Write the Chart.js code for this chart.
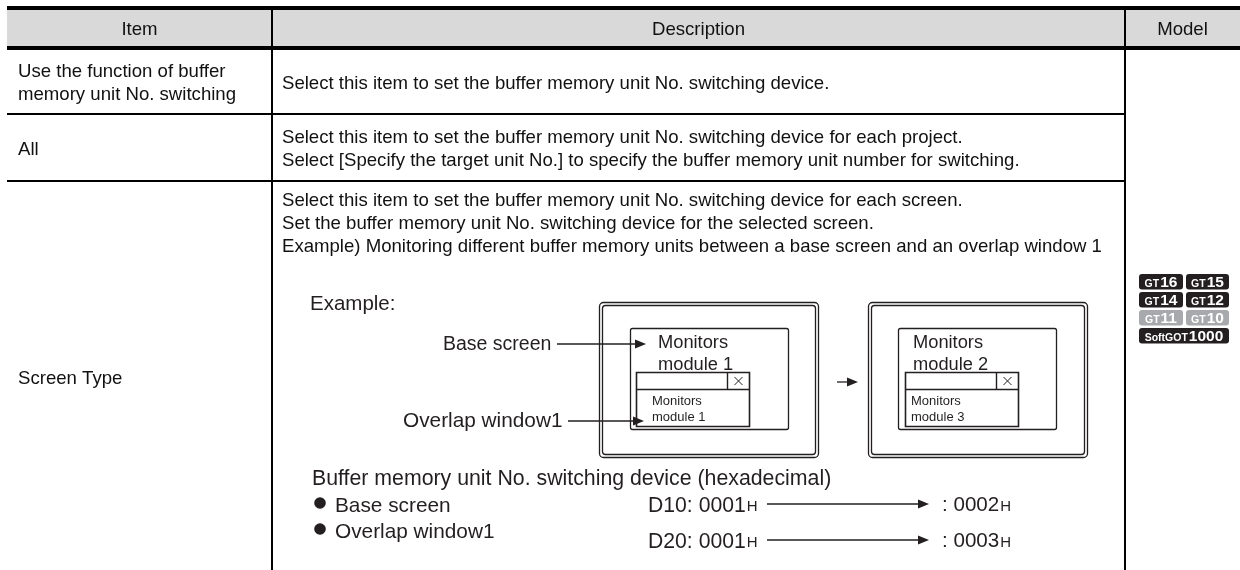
<!DOCTYPE html>
<html>
<head>
<meta charset="utf-8">
<script src="https://cdn.jsdelivr.net/npm/chart.js@4.4.1/dist/chart.umd.min.js"></script>
<style>
html,body{margin:0;padding:0;background:#fff;}
#wrap{width:1240px;height:570px;position:relative;}
canvas{display:block;}
</style>
</head>
<body>
<div id="wrap"><canvas id="c" width="1240" height="570"></canvas></div>
<script>
// ---------- DATA ----------
const headerLabels = ["Item", "Description", "Model"];
const itemLabels = [
  ["Use the function of buffer", "memory unit No. switching"],
  ["All"],
  ["Screen Type"]
];
const descriptionLines = [
  ["Select this item to set the buffer memory unit No. switching device."],
  ["Select this item to set the buffer memory unit No. switching device for each project.",
   "Select [Specify the target unit No.] to specify the buffer memory unit number for switching."],
  ["Select this item to set the buffer memory unit No. switching device for each screen.",
   "Set the buffer memory unit No. switching device for the selected screen.",
   "Example) Monitoring different buffer memory units between a base screen and an overlap window 1"]
];
const modelPrefixes = [["GT", "GT"], ["GT", "GT"], ["GT", "GT"], ["SoftGOT"]];
const modelNumbers = [["16", "15"], ["14", "12"], ["11", "10"], ["1000"]];
const modelSupported = [[true, true], [true, true], [false, false], [true]];
const exampleTitle = "Example:";
const baseScreenTexts = [["Monitors", "module 1"], ["Monitors", "module 2"]];
const overlapTexts = [["Monitors", "module 1"], ["Monitors", "module 3"]];
const calloutLabels = ["Base screen", "Overlap window1"];
const deviceTitle = "Buffer memory unit No. switching device (hexadecimal)";
const deviceTargets = ["Base screen", "Overlap window1"];
const deviceNames = ["D10", "D20"];
const deviceBefore = ["0001", "0001"];
const deviceAfter = ["0002", "0003"];

// ---------- LAYOUT (positions in scale units) ----------
const L = {
  cols: [7, 272, 1125, 1240],
  topRule: [6, 10], headRule: [46, 50], headMid: 28,
  rowRules: [114, 181],
  itemLineY: [[70, 93], [148], [377]],
  descLineY: [[82], [136, 159], [199, 222, 245]],
  padX: 11,
  badgeX: [[1139, 1183], [1186, 1229]], badgeFullX: [1139, 1229],
  badgeY0: 274, badgePitch: 18, badgeH: 15.5,
  screens: [
    {outer: [599, 302, 818, 457], base: [630, 328, 788, 429], baseTx: 658, ov: [636, 372, 749, 426], ovTx: 652, closeX: 727},
    {outer: [868, 302, 1087, 457], base: [898, 328, 1056, 429], baseTx: 913, ov: [905, 372, 1018, 426], ovTx: 911, closeX: 996}
  ],
  exampleXY: [310, 303],
  callouts: [{x: 443, y: 343, x0: 557, x1: 646, size: 19.5}, {x: 403, y: 420, x0: 568, x1: 644, size: 20.8}],
  midArrow: [837, 858, 382],
  devTitleXY: [312, 477],
  devRowY: [505, 531], devValY: [504, 540],
  bulletX: 320, targetX: 335, devX: 648, arrowX: [767, 929], afterX: 942
};

const BODY = '"Liberation Sans", Arial, Helvetica, sans-serif';
const BODY_SIZE = 18.6;

const tablePlugin = {
  id: 'tableDraw',
  afterDraw(chart) {
    const ctx = chart.ctx;
    const xs = chart.scales.x, ys = chart.scales.y;
    const X = v => xs.getPixelForValue(v);
    const Y = v => ys.getPixelForValue(v);
    const rect = (x0, y0, x1, y1, c) => { ctx.fillStyle = c; ctx.fillRect(X(x0), Y(y0), X(x1) - X(x0), Y(y1) - Y(y0)); };
    const font = (size, bold) => (bold ? 'bold ' : '') + size + 'px ' + BODY;
    const text = (s, x, yc, size, opt = {}) => {
      ctx.font = font(size, opt.bold);
      ctx.fillStyle = opt.color || '#000';
      ctx.textAlign = opt.align || 'left';
      ctx.textBaseline = 'alphabetic';
      ctx.fillText(s, X(x), Y(yc) + size * 0.36);
      return ctx.measureText(s).width;
    };
    ctx.save();
    // ---- table frame ----
    const [c0, c1, c2, c3] = L.cols;
    rect(c0, L.topRule[1], c3, L.headRule[0], '#d9d9d9');
    rect(c0, L.topRule[0], c3, L.topRule[1], '#000');
    rect(c0, L.headRule[0], c3, L.headRule[1], '#000');
    L.rowRules.forEach(r => rect(c0, r - 1, c2, r + 1, '#000'));
    rect(c1 - 1, L.topRule[1], c1 + 1, 570, '#000');
    rect(c2 - 1, L.topRule[1], c2 + 1, 570, '#000');

    // ---- header ----
    const centers = [(c0 + c1) / 2, (c1 + c2) / 2, (c2 + c3) / 2];
    headerLabels.forEach((h, i) => text(h, centers[i], L.headMid, BODY_SIZE, {align: 'center', color: '#111'}));

    // ---- rows ----
    itemLabels.forEach((lines, r) => lines.forEach((s, k) => text(s, c0 + L.padX, L.itemLineY[r][k], BODY_SIZE, {color: '#111'})));
    descriptionLines.forEach((lines, r) => lines.forEach((s, k) => text(s, c1 + 10, L.descLineY[r][k], BODY_SIZE, {color: '#111'})));

    // ---- model badges ----
    modelNumbers.forEach((row, r) => {
      const y0 = L.badgeY0 + r * L.badgePitch;
      row.forEach((num, k) => {
        const xr = row.length === 1 ? L.badgeFullX : L.badgeX[k];
        ctx.fillStyle = modelSupported[r][k] ? '#231f20' : '#a7a9ac';
        ctx.beginPath();
        ctx.roundRect(X(xr[0]), Y(y0), X(xr[1]) - X(xr[0]), Y(y0 + L.badgeH) - Y(y0), 3);
        ctx.fill();
        const pre = modelPrefixes[r][k];
        const ps = pre.length > 2 ? 10.5 : 10.5;
        ctx.font = font(ps, true); const wp = ctx.measureText(pre).width;
        ctx.font = font(15.5, true); const wn = ctx.measureText(num).width;
        const start = (X(xr[0]) + X(xr[1])) / 2 - (wp + wn + 1) / 2;
        const base = Y(y0) + 13;
        ctx.fillStyle = '#fff'; ctx.textAlign = 'left'; ctx.textBaseline = 'alphabetic';
        ctx.font = font(ps, true); ctx.fillText(pre, start, base);
        ctx.font = font(15.5, true); ctx.fillText(num, start + wp + 1, base);
      });
    });

    // ---- example diagram ----
    const ink = '#231f20';
    text(exampleTitle, L.exampleXY[0], L.exampleXY[1], 20.5, {color: ink});
    const strokeR = (b, rad, lw) => {
      ctx.strokeStyle = ink; ctx.lineWidth = lw;
      ctx.beginPath();
      ctx.roundRect(X(b[0]) + 0.5, Y(b[1]) + 0.5, X(b[2]) - X(b[0]), Y(b[3]) - Y(b[1]), rad);
      ctx.stroke();
    };
    const line = (x0, y0, x1, y1, lw) => {
      ctx.strokeStyle = ink; ctx.lineWidth = lw;
      ctx.beginPath(); ctx.moveTo(X(x0), Y(y0)); ctx.lineTo(X(x1), Y(y1)); ctx.stroke();
    };
    const arrow = (x0, x1, y) => {
      line(x0, y, x1 - 8, y, 1.3);
      ctx.fillStyle = ink;
      ctx.beginPath();
      ctx.moveTo(X(x1), Y(y)); ctx.lineTo(X(x1) - 11, Y(y) - 4.5); ctx.lineTo(X(x1) - 11, Y(y) + 4.5);
      ctx.closePath(); ctx.fill();
    };
    L.screens.forEach((s, i) => {
      strokeR(s.outer, 4, 1.3);
      strokeR([s.outer[0] + 3, s.outer[1] + 3, s.outer[2] - 3, s.outer[3] - 3], 3, 1.3);
      strokeR(s.base, 2, 1.3);
      baseScreenTexts[i].forEach((t, k) => text(t, s.baseTx, s.base[1] + 13 + k * 22, 18.3, {color: ink}));
      ctx.fillStyle = '#fff';
      ctx.fillRect(X(s.ov[0]), Y(s.ov[1]), X(s.ov[2]) - X(s.ov[0]), Y(s.ov[3]) - Y(s.ov[1]));
      strokeR(s.ov, 0, 1.6);
      line(s.ov[0], s.ov[1] + 17.5, s.ov[2], s.ov[1] + 17.5, 1.4);
      line(s.closeX + 0.5, s.ov[1], s.closeX + 0.5, s.ov[1] + 17.5, 1.4);
      const cx = (s.closeX + s.ov[2]) / 2 + 0.5, cy = s.ov[1] + 9;
      line(cx - 4, cy - 4, cx + 4, cy + 4, 1);
      line(cx - 4, cy + 4, cx + 4, cy - 4, 1);
      overlapTexts[i].forEach((t, k) => text(t, s.ovTx, s.ov[1] + 28 + k * 16, 13, {color: ink}));
    });
    calloutLabels.forEach((t, i) => {
      const c = L.callouts[i];
      text(t, c.x, c.y, c.size, {color: ink});
      arrow(c.x0, c.x1, c.y + 1);
    });
    arrow(L.midArrow[0], L.midArrow[1], L.midArrow[2]);

    // ---- device section ----
    text(deviceTitle, L.devTitleXY[0], L.devTitleXY[1], 21.3, {color: ink});
    deviceTargets.forEach((t, i) => {
      ctx.fillStyle = ink;
      ctx.beginPath(); ctx.arc(X(L.bulletX), Y(L.devRowY[i] - 2), 5.8, 0, Math.PI * 2); ctx.fill();
      text(t, L.targetX, L.devRowY[i], 20.8, {color: ink});
      const yv = L.devValY[i];
      const w = text(deviceNames[i] + ": " + deviceBefore[i], L.devX, yv, 21.2, {color: ink});
      text("H", L.devX + w + 1, yv + 1.7, 15, {color: ink});
      arrow(L.arrowX[0], L.arrowX[1], yv);
      const w2 = text(": " + deviceAfter[i], L.afterX, yv, 20.6, {color: ink});
      text("H", L.afterX + w2 + 1, yv + 1.7, 15, {color: ink});
    });
    ctx.restore();
  }
};

new Chart(document.getElementById('c'), {
  type: 'scatter',
  data: {datasets: [{data: [], pointRadius: 0}]},
  options: {
    responsive: false,
    animation: false,
    devicePixelRatio: 1,
    layout: {padding: 0},
    events: [],
    plugins: {legend: {display: false}, tooltip: {enabled: false}, title: {display: false}},
    scales: {
      x: {type: 'linear', min: 0, max: 1240, display: false},
      y: {type: 'linear', min: 0, max: 570, reverse: true, display: false}
    }
  },
  plugins: [tablePlugin]
});
</script>
</body>
</html>
